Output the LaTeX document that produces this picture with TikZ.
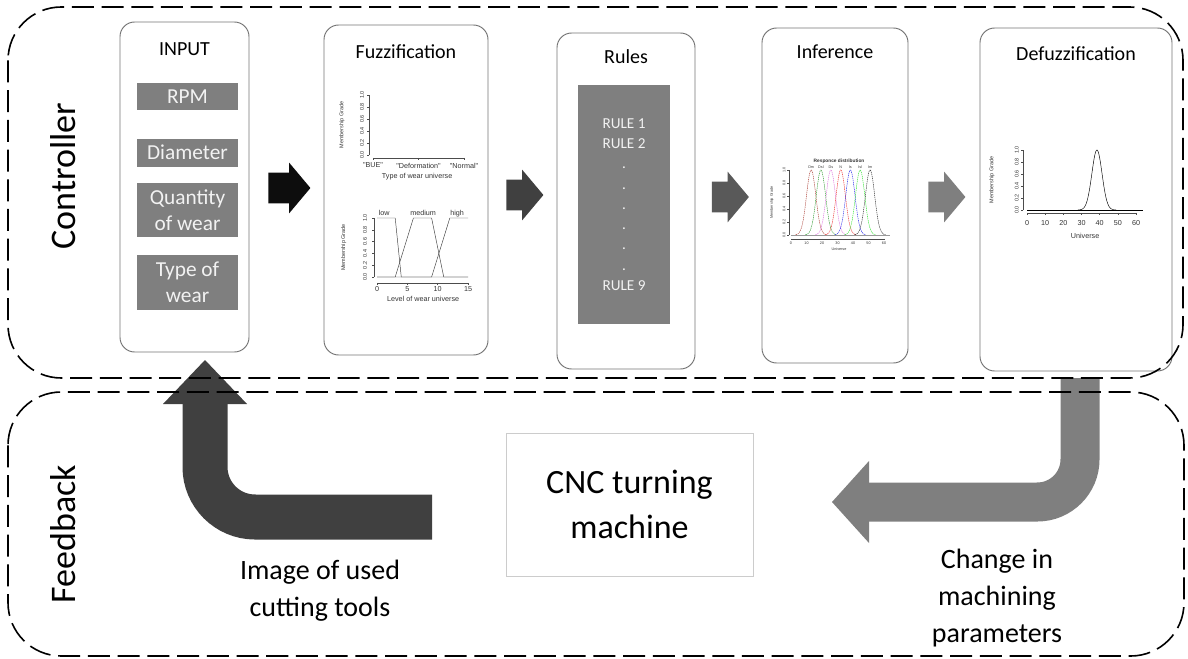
\documentclass[tikz,border=0pt]{standalone}
\usepackage{fontspec}
\setmainfont{Carlito}
\newfontfamily\plotfont{Liberation Sans}
\usetikzlibrary{positioning,shapes.arrows}

\definecolor{boxgray}{RGB}{127,127,127}
\definecolor{arrowA}{RGB}{13,13,13}
\definecolor{arrowB}{RGB}{64,64,64}
\definecolor{arrowC}{RGB}{89,89,89}
\definecolor{arrowD}{RGB}{127,127,127}
\definecolor{curveA}{RGB}{170,60,50}
\definecolor{curveB}{RGB}{40,150,40}
\definecolor{curveC}{RGB}{220,110,220}
\definecolor{curveD}{RGB}{235,40,40}
\definecolor{curveE}{RGB}{40,40,235}
\definecolor{curveF}{RGB}{40,225,40}
\definecolor{curveG}{RGB}{40,40,40}

\tikzset{
  panel/.style={draw=black!55, line width=0.7pt, rounded corners=11pt, inner sep=0pt},
  title/.style={font=\fontsize{15}{18}\selectfont},
  item/.style={fill=boxgray, text=white!95!black, minimum width=75.75pt, inner sep=1pt,
    align=center, font=\fontsize{16}{20}\selectfont},
  fwd/.style={single arrow, fill=#1, draw=none, inner xsep=0pt, inner ysep=11.25pt,
    single arrow head extend=7.5pt, minimum height=27.75pt, single arrow tip angle=100},
  region/.style={draw, line width=1.2pt, dash pattern=on 16.5pt off 5.8pt, rounded corners=40pt},
  side/.style={rotate=90, font=\fontsize{27}{27}\selectfont},
  note/.style={align=center, font=\fontsize{21}{28}\selectfont},
  back/.style={line width=#1, line cap=butt},
  ax/.style={draw=black!70, line width=0.3pt},
  mf/.style={draw=black!75, line width=0.35pt},
  tick/.style={font=\plotfont\fontsize{5.4}{6}\selectfont, inner sep=0pt, text=black!80},
  ytick/.style={font=\plotfont\fontsize{4.1}{5}\selectfont, inner sep=0pt, text=black!80, rotate=90},
  tiny/.style={font=\plotfont\fontsize{2.8}{3}\selectfont, inner sep=0pt, text=black!80}
}

\begin{document}
\begin{tikzpicture}[x=0.75pt, y=-0.75pt]
\useasboundingbox (0,0) rectangle (1188,659);

% controller panels
\node[panel, minimum width=96.75pt, minimum height=247.5pt] (1) at (184.5,187) {};
\node[panel, minimum width=123pt, minimum height=247.5pt] (2) at (406,190) {};
\node[panel, minimum width=103.5pt, minimum height=252pt] (3) at (626,201) {};
\node[panel, minimum width=109.5pt, minimum height=251.25pt] (4) at (835,195.5) {};
\node[panel, minimum width=144pt, minimum height=257.25pt] (5) at (1076,199.5) {};

\node[title] at ([yshift=-21pt]1.north) {INPUT};
\node[title] at ([yshift=-20pt]2.north) {Fuzzification};
\node[title] at ([yshift=-18pt]3.north) {Rules};
\node[title] at ([yshift=-18pt]4.north) {Inference};
\node[title] at ([yshift=-19.5pt]5.north) {Defuzzification};

% inputs
\node[item, minimum height=20.25pt] (rpm) at (187.5,96.5) {RPM};
\node[item, minimum height=21pt, below=21pt of rpm] (dia) {Diameter};
\node[item, minimum height=40.5pt, below=12pt of dia] (qty) {Quantity\\of wear};
\node[item, minimum height=41.25pt, below=12.75pt of qty] (typ) {Type of\\wear};

% rule base
\node[item, font=\fontsize{11.4}{15.2}\selectfont, minimum width=69pt, minimum height=179.25pt]
  (rules) at (624,204.5) {RULE 1\\RULE 2\\.\\.\\.\\.\\.\\.\\RULE 9};

% arrows between panels
\node[fwd=arrowA, minimum height=31.5pt] (a1) at (283,188) {};
\node[fwd=arrowB] (a2) at (518.5,195) {};
\node[fwd=arrowC] (a3) at (724,197) {};
\node[fwd=arrowD] (a4) at (940.5,197) {};

% feedback
\node[draw=black!20, line width=0.6pt, minimum width=185.25pt, minimum height=107.25pt,
  align=center, font=\fontsize{25.5}{34}\selectfont] (6) at (629.5,504.5) {CNC turning\\machine};
\node[note] (7) at (320,591) {Image of used\\cutting tools};
\node[note] (8) at (997,598) {Change in\\machining\\parameters};

\coordinate (fb1) at (432,517);
\coordinate (fb2) at (205,404);
\draw[back=33.75pt, arrowB, rounded corners=37.5pt] (fb1) -- (205,517) -- (fb2);
\fill[arrowB] ([xshift=-31.5pt]fb2) -- ([xshift=31.5pt]fb2) -- ([yshift=33pt]fb2) -- cycle;

\coordinate (cm1) at (1080,378);
\coordinate (cm2) at (869,502);
\draw[back=29.25pt, arrowD, rounded corners=32pt] (cm1) -- (1080,502) -- (cm2);
\fill[arrowD] ([yshift=30.75pt]cm2) -- ([yshift=-30.75pt]cm2) -- ([xshift=-27.75pt]cm2) -- cycle;

% dashed regions
\draw[region] (8,7) rectangle (1183,378);
\draw[region] (8,392) rectangle (1184,656);
\node[side] (c) at (63,176) {Controller};
\node[side] (f) at (63,534) {Feedback};

% fuzzification, type of wear
\begin{scope}[shift={(373,155)}, x=34.125pt, y=45pt]
  \draw[ax] (-0.088,0) -- (-0.088,1);
  \foreach \v [count=\i from 0] in {0.0,0.2,0.4,0.6,0.8,1.0}{
    \draw[ax] (-0.088,{0.2*\i}) -- ++(-1.8pt,0pt);
    \node[ytick] at (-0.24,{0.2*\i}) {\v};
  }
  \node[ytick] at (-0.68,0.5) {Membership Grade};
  \draw[ax] (0,-0.05) -- (2,-0.05);
  \foreach \k/\t in {0/BUE, 1/Deformation, 2/Normal}{
    \draw[ax] (\k,-0.05) -- ++(0pt,-1.8pt);
    \node[tick] at (\k,-0.175) {\textquotedbl\t\textquotedbl};
  }
  \node[tick] at (0.97,-0.367) {Type of wear universe};
\end{scope}

% fuzzification, level of wear
\begin{scope}[shift={(377,277)}, x=4.55pt, y=44.25pt]
  \draw[ax] (-0.5,0) -- (-0.5,1);
  \foreach \v [count=\i from 0] in {0.0,0.2,0.4,0.6,0.8,1.0}{
    \draw[ax] (-0.5,{0.2*\i}) -- ++(-1.8pt,0pt);
    \node[ytick] at (-2,{0.2*\i}) {\v};
  }
  \node[ytick] at (-5.5,0.5) {Membership Grade};
  \draw[ax] (0,-0.1) -- (15,-0.1);
  \foreach \u in {0,5,10,15}{
    \draw[ax] (\u,-0.1) -- ++(0pt,-1.8pt);
    \node[tick] at (\u,-0.21) {\u};
  }
  \node[tick] at (7.6,-0.38) {Level of wear universe};
  \draw[mf] (0,1) -- (3,1) -- (4,0) -- (15,0);
  \draw[mf] (0,0) -- (3,0) -- (6,1) -- (9,1) -- (11,0) -- (15,0);
  \draw[mf] (0,0) -- (9,0) -- (12,1) -- (15,1);
  \node[tick] at (1.2,1.08) {low};
  \node[tick] at (7.6,1.08) {medium};
  \node[tick] at (13.2,1.08) {high};
\end{scope}

% inference
\begin{scope}[shift={(791,235)}, x=1.1625pt, y=48.75pt]
  \node[tiny, font=\plotfont\bfseries\fontsize{3.6}{4}\selectfont] at (31,1.14) {Responce distribution};
  \draw[ax] (-1.3,0) -- (-1.3,1);
  \foreach \v [count=\i from 0] in {0.0,0.2,0.4,0.6,0.8,1.0}{
    \draw[ax] (-1.3,{0.2*\i}) -- ++(-1.2pt,0pt);
    \node[tiny, rotate=90] at (-4.5,{0.2*\i}) {\v};
  }
  \node[tiny, rotate=90] at (-12.3,0.5) {Membership Grade};
  \draw[ax] (0,-0.06) -- (60,-0.06);
  \foreach \u in {0,10,...,60}{
    \draw[ax] (\u,-0.06) -- ++(0pt,-1.2pt);
    \node[tiny] at (\u,-0.12) {\u};
  }
  \node[tiny] at (31,-0.215) {Universe};
  \draw[ax, black!40] (0,0) -- (64,0);
  \foreach \m/\c/\t in {13/curveA/Dm, 19.3/curveB/Dsl, 25.7/curveC/Ds, 32.1/curveD/N,
                        38.3/curveE/Is, 44.6/curveF/Isl, 51/curveG/Im}{
    \pgfmathsetmacro\lo{\m-10}
    \pgfmathsetmacro\hi{\m+10}
    \draw[\c, line width=0.35pt, dash pattern=on 1pt off 0.6pt]
      plot[domain=\lo:\hi, samples=41, smooth] (\x,{exp(-((\x-\m)*(\x-\m))/18)});
    \node[tiny] at (\m,1.05) {\t};
  }
\end{scope}

% defuzzification
\begin{scope}[shift={(1027,210)}, x=1.3625pt, y=45pt]
  \draw[ax] (-2.2,0) -- (-2.2,1);
  \foreach \v [count=\i from 0] in {0.0,0.2,0.4,0.6,0.8,1.0}{
    \draw[ax] (-2.2,{0.2*\i}) -- ++(-1.8pt,0pt);
    \node[ytick] at (-5.6,{0.2*\i}) {\v};
  }
  \node[ytick] at (-19.3,0.5) {Membership Grade};
  \draw[ax] (0,-0.05) -- (60,-0.05);
  \foreach \u in {0,10,...,60}{
    \draw[ax] (\u,-0.05) -- ++(0pt,-1.8pt);
    \node[tick] at (\u,-0.21) {\u};
  }
  \node[tick] at (32,-0.43) {Universe};
  \draw[mf, black] (0,0) -- (64,0);
  \draw[mf, black] plot[domain=28:49, samples=50, smooth] (\x,{exp(-((\x-38.5)*(\x-38.5))/15.7)});
\end{scope}
\end{tikzpicture}
\end{document}
